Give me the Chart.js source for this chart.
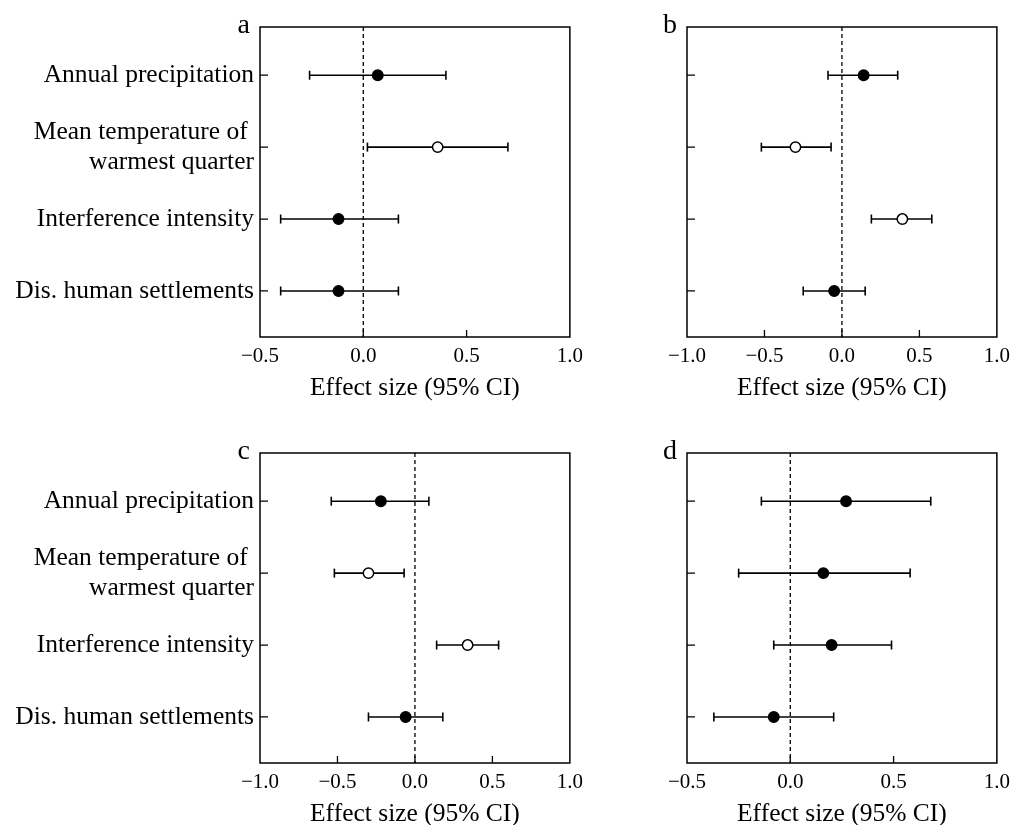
<!DOCTYPE html>
<html>
<head>
<meta charset="utf-8">
<script src="https://cdn.jsdelivr.net/npm/chart.js@4.4.0/dist/chart.umd.min.js"></script>
<style>
  html, body { margin: 0; padding: 0; background: #fff; overflow: hidden; }
  canvas { position: absolute; }
</style>
</head>
<body>
<canvas id="panelA" width="590" height="415" style="left:0;top:0"></canvas>
<canvas id="panelB" width="590" height="415" style="left:427px;top:0"></canvas>
<canvas id="panelC" width="590" height="415" style="left:0;top:426px"></canvas>
<canvas id="panelD" width="590" height="415" style="left:427px;top:426px"></canvas>
<script>
// predictors, top to bottom
var categories = [
    "Annual precipitation",
    ["Mean temperature of ", "warmest quarter"],
    "Interference intensity",
    "Dis. human settlements"
];
var rows = [1, 2, 3, 4];

// x-axis tick values
var ticksNarrow = [-0.5, 0.0, 0.5, 1.0];
var ticksWide = [-1.0, -0.5, 0.0, 0.5, 1.0];

// panel a
var estA  = [0.07, 0.36, -0.12, -0.12];
var lowA  = [-0.26, 0.02, -0.40, -0.40];
var highA = [0.40, 0.70, 0.17, 0.17];
var openA = [false, true, false, false];

// panel b
var estB  = [0.14, -0.30, 0.39, -0.05];
var lowB  = [-0.09, -0.52, 0.19, -0.25];
var highB = [0.36, -0.07, 0.58, 0.15];
var openB = [false, true, true, false];

// panel c
var estC  = [-0.22, -0.30, 0.34, -0.06];
var lowC  = [-0.54, -0.52, 0.14, -0.30];
var highC = [0.09, -0.07, 0.54, 0.18];
var openC = [false, true, true, false];

// panel d
var estD  = [0.27, 0.16, 0.20, -0.08];
var lowD  = [-0.14, -0.25, -0.08, -0.37];
var highD = [0.68, 0.58, 0.49, 0.21];
var openD = [false, false, false, false];

var serif = '"Liberation Serif", "Times New Roman", serif';
var yMin = 0.33, yMax = 4.64;

// box around the plot, inward ticks and the panel letter
var panelFrame = {
    id: 'panelFrame',
    afterDraw: function(chart, args, opts) {
        var ctx = chart.ctx, a = chart.chartArea;
        var xs = chart.scales.x, ys = chart.scales.y;
        ctx.save();
        ctx.strokeStyle = '#000';
        ctx.lineWidth = 1.5;
        ctx.strokeRect(a.left, a.top, a.right - a.left, a.bottom - a.top);
        ctx.lineWidth = 1.3;
        ctx.beginPath();
        xs.ticks.forEach(function(t) {
            var px = xs.getPixelForValue(t.value);
            if (px <= a.left + 1 || px >= a.right - 1) return;
            ctx.moveTo(px, a.bottom);
            ctx.lineTo(px, a.bottom - 7);
        });
        ys.ticks.forEach(function(t) {
            var py = ys.getPixelForValue(t.value);
            ctx.moveTo(a.left, py);
            ctx.lineTo(a.left + 8, py);
        });
        ctx.stroke();
        ctx.fillStyle = '#000';
        ctx.font = '28px ' + serif;
        ctx.textAlign = 'right';
        ctx.textBaseline = 'alphabetic';
        ctx.fillText(opts.letter, a.left - 10, a.top + 6);
        ctx.restore();
    }
};

function makePanel(id, letter, est, low, high, open, xTicks, showLabels) {
    var datasets = [];

    // dashed zero line
    datasets.push({
        data: [{x: 0, y: yMin}, {x: 0, y: yMax}],
        showLine: true,
        borderColor: '#000',
        borderWidth: 1.3,
        borderDash: [4, 3],
        pointRadius: 0,
        order: 3
    });

    // confidence intervals with end caps
    est.forEach(function(v, i) {
        datasets.push({
            data: [{x: low[i], y: rows[i]}, {x: high[i], y: rows[i]}],
            showLine: true,
            borderColor: '#000',
            borderWidth: 1.6,
            pointStyle: 'line',
            pointRotation: 90,
            pointRadius: 4.5,
            pointBorderWidth: 1.6,
            pointBorderColor: '#000',
            order: 2
        });
    });

    // effect size estimates
    datasets.push({
        data: est.map(function(v, i) { return {x: v, y: rows[i]}; }),
        pointRadius: 5.2,
        pointBorderWidth: 1.5,
        pointBorderColor: '#000',
        pointBackgroundColor: open.map(function(o) { return o ? '#fff' : '#000'; }),
        order: 1
    });

    var ctx = document.getElementById(id).getContext('2d');
    new Chart(ctx, {
        type: 'scatter',
        data: {datasets: datasets},
        plugins: [panelFrame],
        options: {
            responsive: false,
            animation: false,
            layout: {padding: {left: 0, right: 20, top: 27, bottom: 0}},
            plugins: {
                legend: {display: false},
                tooltip: {enabled: false},
                panelFrame: {letter: letter}
            },
            scales: {
                x: {
                    type: 'linear',
                    min: xTicks[0],
                    max: xTicks[xTicks.length - 1],
                    afterBuildTicks: function(s) {
                        s.ticks = xTicks.map(function(v) { return {value: v}; });
                    },
                    afterFit: function(s) { s.height = 78; },
                    grid: {display: false, drawTicks: false},
                    border: {display: false},
                    ticks: {
                        padding: 7,
                        color: '#000',
                        font: {family: serif, size: 21},
                        callback: function(v) { return Number(v).toFixed(1).replace('-', '\u2212'); }
                    },
                    title: {
                        display: true,
                        text: 'Effect size (95% CI)',
                        color: '#000',
                        font: {family: serif, size: 25.5},
                        padding: {top: 0, bottom: 11}
                    }
                },
                y: {
                    type: 'linear',
                    reverse: true,
                    min: yMin,
                    max: yMax,
                    afterBuildTicks: function(s) {
                        s.ticks = rows.map(function(v) { return {value: v}; });
                    },
                    afterFit: function(s) { s.width = 260; },
                    grid: {display: false, drawTicks: false},
                    border: {display: false},
                    ticks: {
                        display: showLabels,
                        padding: 6,
                        color: '#000',
                        font: {family: serif, size: 25.5},
                        callback: function(v) { return categories[rows.indexOf(v)]; }
                    }
                }
            }
        }
    });
}

makePanel('panelA', 'a', estA, lowA, highA, openA, ticksNarrow, true);
makePanel('panelB', 'b', estB, lowB, highB, openB, ticksWide, false);
makePanel('panelC', 'c', estC, lowC, highC, openC, ticksWide, true);
makePanel('panelD', 'd', estD, lowD, highD, openD, ticksNarrow, false);
</script>
</body>
</html>
